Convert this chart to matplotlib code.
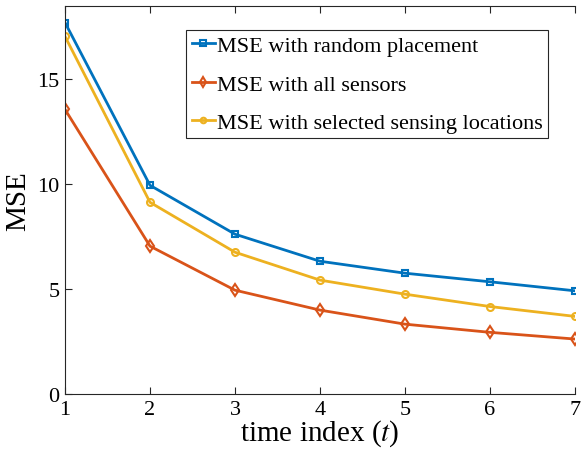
import numpy as np
import matplotlib.pyplot as plt

t = [1, 2, 3, 4, 5, 6, 7]
mse_random = [17.71, 9.95, 7.62, 6.33, 5.76, 5.35, 4.92]
mse_all = [13.57, 7.05, 4.95, 4.00, 3.33, 2.94, 2.62]
mse_selected = [17.05, 9.14, 6.76, 5.43, 4.76, 4.17, 3.70]

plt.rcParams['font.family'] = ['Liberation Serif', 'DejaVu Serif']
plt.rcParams['mathtext.fontset'] = 'stix'

fig = plt.figure(figsize=(5.82, 4.56), dpi=100)
ax = fig.add_axes([65 / 582, 1 - 395 / 456, 510 / 582, 388 / 456])

ax.plot(t, mse_random, color='#0072BD', lw=2, marker='s', ms=5, mfc='none', mew=1.5,
        label='MSE with random placement')
ax.plot(t, mse_all, color='#D95319', lw=2, marker='d', ms=6, mfc='none', mew=1.5,
        label='MSE with all sensors')
ax.plot(t, mse_selected, color='#EDB120', lw=2, marker='o', ms=5, mfc='none', mew=1.5,
        label='MSE with selected sensing locations')

ax.set_xlim(1, 7)
ax.set_ylim(0, 18.5)
ax.set_xticks(t)
ax.set_yticks([0, 5, 10, 15])
ax.tick_params(direction='in', length=5, width=0.8, color='#262626', labelsize=16,
               top=True, right=False, pad=4)
for s in ax.spines.values():
    s.set_color('#262626')
    s.set_linewidth(0.8)
ax.spines['right'].set_visible(False)

ax.set_xlabel('time index ($t$)', fontsize=21, labelpad=-1)
ax.set_ylabel('MSE', fontsize=21, labelpad=4)

leg = ax.legend(loc='upper right', bbox_to_anchor=(0.947, 0.938), fontsize=16,
                handlelength=1.05, handletextpad=0.08, borderpad=0.25,
                labelspacing=0.8, fancybox=False, framealpha=1, markerscale=0.8,
                edgecolor='#262626', borderaxespad=0)
leg.get_frame().set_linewidth(0.8)

fig.savefig('out.png', dpi=100)
